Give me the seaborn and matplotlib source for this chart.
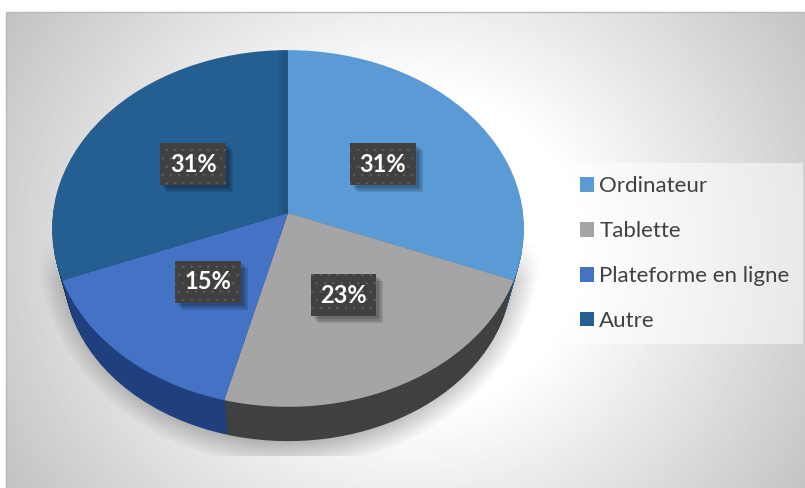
import numpy as np
import matplotlib
matplotlib.use("Agg")
import matplotlib.pyplot as plt
from matplotlib.patches import Patch, Rectangle
from matplotlib.transforms import Transform
import seaborn as sns

labels = ["Ordinateur", "Tablette", "Plateforme en ligne", "Autre"]
values = [31, 23, 15, 31]
top_colors = ["#5b9bd5", "#a5a5a5", "#4472c4", "#255e91"]
side_colors = ["#2f5f8f", "#404040", "#203f7e", "#163a5c"]

W, H = 805, 488

sns.set_theme(style="white")
plt.rcParams["font.family"] = ["Lato", "DejaVu Sans"]
plt.rcParams["hatch.linewidth"] = 0.5


class Tilt(Transform):
    # puts the unit pie on a tilted plane, output is in pixels
    input_dims = 2
    output_dims = 2

    def __init__(self, cx=288, cy=213, a=235, b=177, k=0.0868):
        super().__init__()
        self.cx, self.cy, self.a, self.b, self.k = cx, cy, a, b, k

    def transform_non_affine(self, xy):
        xy = np.asarray(xy, dtype=float)
        w = 1 + self.k * xy[:, 1]
        return np.column_stack([self.cx + self.a * xy[:, 0] / w,
                                self.cy - self.b * xy[:, 1] / w])


fig = plt.figure(figsize=(W / 100, H / 100), dpi=100)
ax = fig.add_axes([0, 0, 1, 1])

# background gradient
yy, xx = np.mgrid[0:H, 0:W]
d = np.hypot(xx - 410, (yy - 250) * 1.07)
t = np.clip((d - 170) / 330, 0, 1)
shade = 1 - t * (1 - 0.745)
ax.imshow(shade, cmap="gray", vmin=0, vmax=1, extent=(0, W, H, 0), zorder=0, aspect="auto")
ax.add_patch(Rectangle((0, 0), W, 12, facecolor="white", edgecolor="none", zorder=0.5))
ax.add_patch(Rectangle((0, 0), 5.5, H, facecolor="white", edgecolor="none", zorder=0.5))
ax.add_patch(Rectangle((5.5, 12), W, H, fill=False, edgecolor="#b8b8b8", lw=1, zorder=1))

# ground shadow
e = np.hypot((xx - 288) / 251, (yy - 250) / 217)
alpha = 0.30 * np.clip((1 - e) / 0.14, 0, 1) * np.clip((yy - 240) / 40, 0, 1)
alpha[yy > 455] = 0
rgba = np.zeros((H, W, 4))
rgba[..., 3] = alpha
ax.imshow(rgba, extent=(0, W, H, 0), zorder=1, aspect="auto")

# rim, stacked from the bottom up
steps = 44
for i in range(steps, 0, -1):
    f = i / steps
    tilt = Tilt(cy=213 + 43 * f, a=235 * (1 - 0.05 * f), b=177 * (1 - 0.045 * f))
    wedges, _ = ax.pie(values, colors=side_colors, startangle=90, counterclock=False,
                       wedgeprops=dict(linewidth=0, edgecolor="none"))
    for w in wedges:
        w.set_transform(tilt + ax.transData)
        w.set_zorder(2)

# top face
tilt = Tilt()
wedges, _, pcts = ax.pie(values, colors=top_colors, startangle=90, counterclock=False,
                         autopct="%.0f%%", pctdistance=0.5,
                         wedgeprops=dict(linewidth=0, edgecolor="none"))
for w in wedges:
    w.set_transform(tilt + ax.transData)
    w.set_zorder(3)

# darker strip where the last slice meets the first
for width in [9, 5]:
    strip = Rectangle((288 - width, 45), width, 170, facecolor="black", edgecolor="none",
                      alpha=0.06, zorder=3.5)
    ax.add_patch(strip)
    strip.set_clip_path(wedges[3])

for txt in pcts:
    x, y = tilt.transform(np.array([txt.get_position()]))[0]
    txt.set_position((x, y))
    txt.set(color="white", fontsize=17, fontweight="bold", ha="center", va="center", zorder=6,
            bbox=dict(boxstyle="square,pad=0.4", facecolor="#404040", edgecolor="#5e5e5e",
                      hatch="..", linewidth=0))

ax.set_aspect("auto")
ax.set_xlim(0, W)
ax.set_ylim(H, 0)
ax.axis("off")

# soft shadows under the label boxes
fig.canvas.draw()
for txt in pcts:
    box = txt.get_bbox_patch().get_window_extent()
    for off in [3, 5, 7]:
        ax.add_patch(Rectangle((box.x0 + off, H - box.y1 + off), box.width, box.height,
                               facecolor="black", edgecolor="none", alpha=0.13, zorder=4))

handles = [Patch(facecolor=c, edgecolor="none") for c in top_colors]
leg = ax.legend(handles, labels, loc="upper left", bbox_to_anchor=(567 / W, 1 - 163 / H),
                borderaxespad=0, fontsize=16, labelcolor="#404040", frameon=True,
                fancybox=False, framealpha=0.5, facecolor="white", edgecolor="none",
                handlelength=0.63, handleheight=0.63, handletextpad=0.22,
                labelspacing=1.12, borderpad=0.6)
leg.set_zorder(5)

fig.savefig("out.png", dpi=100)
